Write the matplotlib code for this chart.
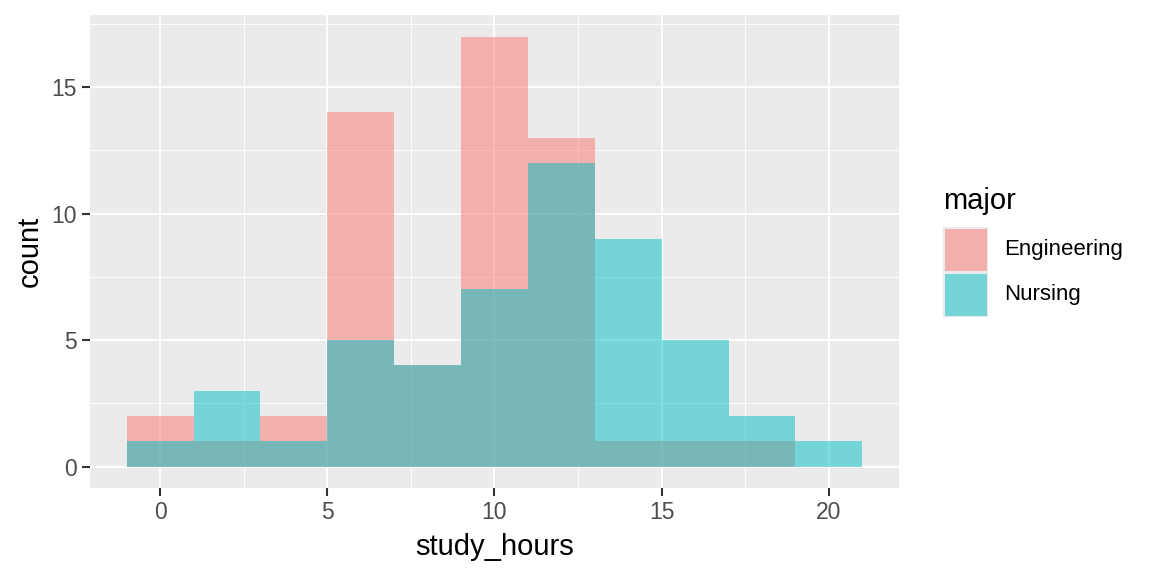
import numpy as np
import matplotlib
matplotlib.use('Agg')
import matplotlib.pyplot as plt
from matplotlib.patches import Rectangle
from matplotlib.ticker import MultipleLocator

plt.rcParams['font.family'] = ['Liberation Sans', 'DejaVu Sans']

# bins of width 2, centred on 0, 2, ..., 20
bin_centers = [0, 2, 4, 6, 8, 10, 12, 14, 16, 18, 20]
engineering = [2, 1, 2, 14, 4, 17, 13, 1, 1, 1, 0]
nursing = [1, 3, 1, 5, 4, 7, 12, 9, 5, 2, 1]
majors = ['Engineering', 'Nursing']
colors = ['#F8766D', '#00BFC4']

W, H = 1152, 576
fig = plt.figure(figsize=(11.52, 5.76), dpi=100, facecolor='white')
ax = fig.add_axes([90 / W, 1 - 488 / H, 809 / W, 473 / H],
                  facecolor='#EBEBEB')

for counts, col in zip([engineering, nursing], colors):
    ax.bar(bin_centers, counts, width=2, color=col, alpha=0.5,
           linewidth=0, zorder=3)

ax.set_xlim(-2.1, 22.1)
ax.set_ylim(-0.85, 17.85)
ax.xaxis.set_major_locator(MultipleLocator(5))
ax.yaxis.set_major_locator(MultipleLocator(5))
ax.xaxis.set_minor_locator(MultipleLocator(2.5))
ax.yaxis.set_minor_locator(MultipleLocator(2.5))
ax.grid(which='major', color='white', linewidth=1.4, zorder=1)
ax.grid(which='minor', color='white', linewidth=0.7, zorder=1)
ax.set_axisbelow(True)
for s in ax.spines.values():
    s.set_visible(False)

ax.tick_params(which='major', length=5.5, width=1.5, color='#333333',
               labelsize=16.5, labelcolor='#4D4D4D', pad=4)
ax.tick_params(which='minor', length=0)
ax.set_xlabel('study_hours', fontsize=21, color='black', va='center')
ax.set_ylabel('count', fontsize=21, color='black', va='center')
ax.xaxis.set_label_coords(0.5, (488 - 547) / 473)
ax.yaxis.set_label_coords((30 - 90) / 809, 0.5)

# legend drawn by hand, ggplot style keys (grey key background)
key_x, key_y, key_s = 943, 227, 45
fig.text(key_x / W, 1 - 201 / H, 'major', fontsize=21, va='center', ha='left')
for i, (name, col) in enumerate(zip(majors, colors)):
    y0 = key_y + i * key_s
    fig.patches.append(Rectangle((key_x / W, 1 - (y0 + key_s) / H),
                                 key_s / W, key_s / H, transform=fig.transFigure,
                                 facecolor='#EBEBEB', edgecolor='none'))
    fig.patches.append(Rectangle(((key_x + 1.5) / W, 1 - (y0 + key_s - 1.5) / H),
                                 (key_s - 3) / W, (key_s - 3) / H,
                                 transform=fig.transFigure, facecolor=col,
                                 alpha=0.5, edgecolor='none'))
    fig.text(1004 / W, 1 - (y0 + key_s / 2) / H, name, fontsize=16,
             va='center', ha='left')

fig.savefig('out.png', dpi=100)
